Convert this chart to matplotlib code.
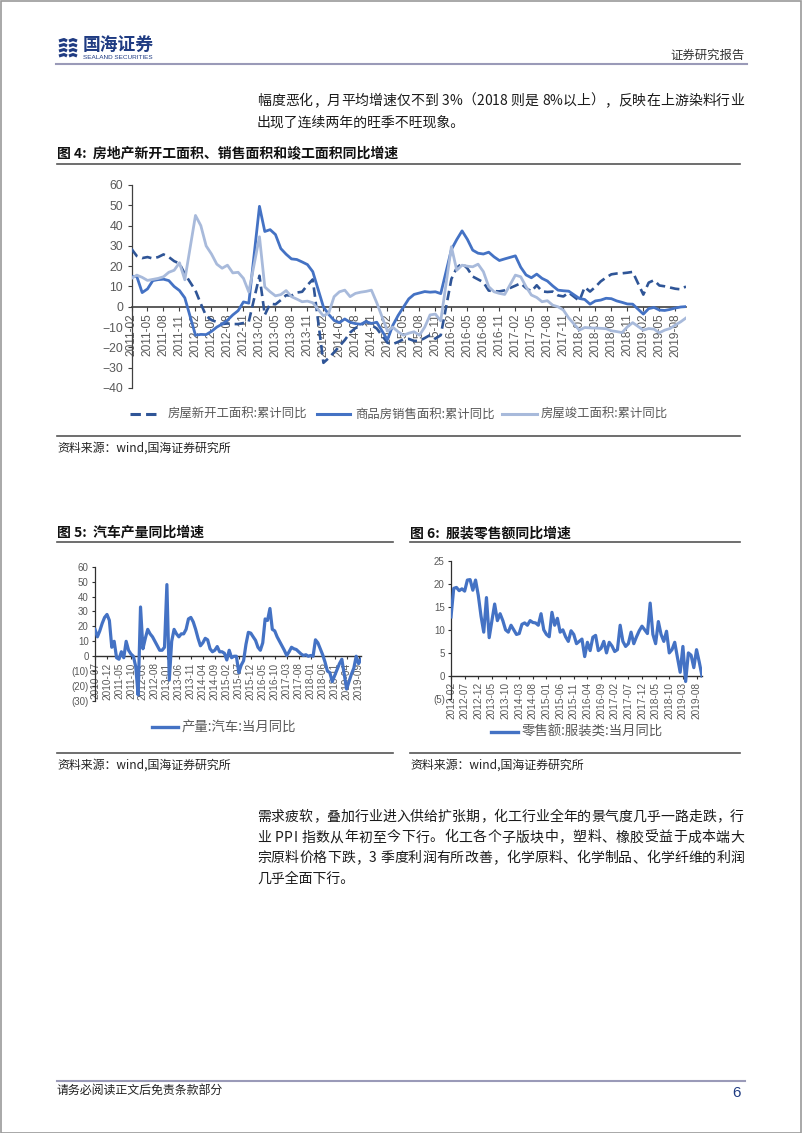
import matplotlib
matplotlib.use('Agg')
import matplotlib.pyplot as plt
from matplotlib.lines import Line2D
from matplotlib.patches import Rectangle

plt.rcParams['font.family'] = ['Noto Sans CJK SC', 'DejaVu Sans']
plt.rcParams['axes.unicode_minus'] = True

# ---------------- data ----------------
# Fig 4: monthly cumulative YoY (Feb-Dec each year, 2011-02 .. 2019-10)
years4 = [2011, 2012, 2013, 2014, 2015, 2016, 2017, 2018, 2019]
last_month4 = 10  # 2019-10
starts4 = [28.5, 25, 24, 24.5, 23.8, 24.5, 25.8, 24.5, 22.5, 21.3, 16.2,
           8, 1.5, -4.5, -6.5, -7.5, -8.5, -8.2, -8.5, -8.5, -8, -7.3,
           15.3, -4, 1.5, 1.2, 3.3, 5.7, 5.5, 7, 7.4, 10.7, 13.5,
           -27.6, -25.2, -22.4, -19.4, -16.4, -12.7, -10.5, -9.3, -7.1, -9.0, -10.7,
           -17.7, -18.4, -17.3, -16.0, -15.8, -16.8, -16.8, -15.4, -13.9, -15.7, -14.0,
           13.7, 19.2, 21.4, 18.9, 14.9, 13.5, 12.1, 8.0, 7.7, 7.6, 8.1,
           10.4, 11.6, 9.2, 7.6, 10.6, 7.6, 7.3, 7.5, 5.6, 5.1, 7.0,
           2.9, 9.7, 7.5, 9.8, 12.5, 14.4, 16.0, 16.4, 16.5, 16.8, 17.2,
           6.0, 11.9, 13.1, 10.5, 10.1, 9.5, 8.9, 8.6, 10.0]
sales4 = [14.9, 14.9, 7.0, 8.8, 12.9, 13.4, 13.6, 12.9, 10.0, 8.0, 4.4,
          -14.0, -13.6, -13.7, -12.1, -10.0, -8.5, -6.6, -4.0, -1.9, 2.4, 1.8,
          49.5, 37.1, 38.0, 35.6, 28.7, 25.9, 23.6, 23.3, 22.1, 20.8, 17.3,
          -0.1, -3.8, -6.7, -7.8, -6.0, -7.6, -8.3, -8.6, -7.3, -8.2, -7.6,
          -16.3, -9.2, -4.3, -0.2, 3.9, 6.1, 6.8, 7.5, 7.2, 7.4, 6.5,
          28.2, 33.1, 37.4, 33.2, 27.9, 26.4, 26.0, 26.9, 24.6, 22.8, 23.6,
          25.1, 19.5, 15.7, 14.3, 16.1, 14.0, 12.7, 10.3, 8.2, 7.9, 7.7,
          4.1, 3.6, 1.3, 2.9, 3.3, 4.2, 4.0, 2.9, 2.2, 1.4, 1.3,
          -3.6, -0.9, -0.3, -1.6, -1.8, -1.3, -0.6, -0.1, 0.1]
comp4 = [14, 15.6, 14.5, 13, 13.5, 14, 14.8, 17, 18, 21.7, 13.3,
         45, 40, 30, 26, 21, 19, 20.5, 16.7, 17, 14, 7.3,
         34.5, 9.8, 7.4, 5.4, 6, 8, 5, 3.8, 2.5, 2.8, 2.0,
         -4.5, -3, 5, 7.4, 8.2, 5, 6.6, 7.2, 7.6, 8.2, 2,
         -12, -10, -12.3, -14, -13, -12.3, -14, -10, -4, -3.6, -6.9,
         29.6, 18, 20.5, 20, 19.7, 21, 17.3, 9.9, 7.4, 6.6, 6.1,
         15.6, 14.8, 9.9, 5.8, 4.6, 2.5, 3.0, 0.8, 0.0, -1.6, -5.5,
         -11.5, -10.2, -10.4, -10.5, -10.6, -10.8, -11.8, -12.2, -12.7, -9.9, -7.8,
         -11.5, -10.7, -11, -12.8, -11.5, -10.7, -9, -7.4, -5.5]
labels4_series = ['房屋新开工面积:累计同比', '商品房销售面积:累计同比', '房屋竣工面积:累计同比']
yticks4 = [60, 50, 40, 30, 20, 10, 0, -10, -20, -30, -40]

# Fig 5: auto production monthly YoY, 2010-07 .. 2019-10
start5 = (2010, 7)
auto5 = [18, 13, 17, 22, 26, 28, 24, 6, 10, -1, -2, 3, -1, 10, 4, 1.5, 0, -7,
         -26, 33, 5, 12, 18, 15, 13, 10, 7, 4, 4, 6, 48, -16, 10, 18, 15, 13,
         15, 15, 18, 25, 26, 23, 18, 12, 7, 9, 12, 11, 5, 3, 4, 6.5, 3, 3,
         2, -2.5, 4, -1, 0, 0, -11, -6, -3, 8, 16, 15.5, 13, 10.6, 6, 4, 9, 25,
         24, 32, 18, 17, 13, 10, 7, 4, 0.5, 3, 6, 5, 4.5, 3, 1.5, 0.5, 1, 0,
         0.5, 0, 11, 9, 5, 1, -4, -10, -11, -17, -13, -9, -5, -2, -12, -22, -17, -12,
         -8, 0, -5, -2]
yticks5 = [60, 50, 40, 30, 20, 10, 0, -10, -20, -30]
yticklabels5 = ['60', '50', '40', '30', '20', '10', '0', '(10)', '(20)', '(30)']
legend5 = '产量:汽车:当月同比'

# Fig 6: apparel retail sales monthly YoY, 2012-02 .. 2019-10
start6 = (2012, 2)
apparel6 = [12.8, 19, 19.2, 18.5, 18.9, 18.4, 20.8, 20.9, 18.6, 20.8, 17.5, 13,
            9.5, 17, 8.3, 12, 15.6, 12, 13.5, 12, 10, 9.5, 11, 10, 9, 9.2, 11.2,
            11.5, 11, 12, 11.6, 11.5, 11, 13.5, 10, 9, 8.5, 13.8, 11, 12.5, 9.5,
            10, 8.5, 7.5, 9.8, 9, 7, 7.5, 8, 4.2, 7.3, 5.5, 8.4, 8.8, 5.5, 6, 7.5,
            5, 7.3, 6.5, 5.3, 5.7, 11, 7.5, 6.4, 7, 9.5, 7, 8.5, 9.8, 10.8, 10,
            9.2, 15.8, 9, 7, 11.8, 9, 7.5, 9.7, 5, 5.7, 7.3, 4, 0.8, 6.4, -1.2,
            5, 4.5, 1.8, 5.7, 3, 0]
yticks6 = [25, 20, 15, 10, 5, 0, -5]
yticklabels6 = ['25', '20', '15', '10', '5', '0', '(5)']
legend6 = '零售额:服装类:当月同比'

para1 = ['幅度恶化，月平均增速仅不到 3%（2018 则是 8%以上），反映在上游染料行业',
         '出现了连续两年的旺季不旺现象。']
para2 = ['需求疲软，叠加行业进入供给扩张期，化工行业全年的景气度几乎一路走跌，行',
         '业 PPI 指数从年初至今下行。化工各个子版块中，塑料、橡胶受益于成本端大',
         '宗原料价格下跌，3 季度利润有所改善，化学原料、化学制品、化学纤维的利润',
         '几乎全面下行。']

# ---------------- page ----------------
W, H = 802, 1133
fig = plt.figure(figsize=(W / 100, H / 100), dpi=100)
renderer = fig.canvas.get_renderer()

def fx(px):
    return px / W

def fy(py):
    return 1 - py / H

def axes_px(l, t, r, b):
    return fig.add_axes([fx(l), fy(b), (r - l) / W, (b - t) / H])

def hline(y, x0, x1, color, lw):
    fig.add_artist(Line2D([fx(x0), fx(x1)], [fy(y), fy(y)], color=color, lw=lw))

def text(x, y, s, **kw):
    kw.setdefault('va', 'center')
    kw.setdefault('ha', 'left')
    return fig.text(fx(x), fy(y), s, **kw)

def justified(x0, x1, y, s, **kw):
    """Place characters one by one so the line fills x0..x1 (like the PDF)."""
    widths = []
    for ch in s:
        t = text(0, y, ch, **kw)
        widths.append(t.get_window_extent(renderer).width if ch != ' ' else None)
        t.remove()
    sp = text(0, y, '国 国', **kw)
    full = sp.get_window_extent(renderer).width
    sp.remove()
    t2 = text(0, y, '国国', **kw)
    space_w = full - t2.get_window_extent(renderer).width
    t2.remove()
    widths = [w if w is not None else space_w for w in widths]
    extra = (x1 - x0 - sum(widths)) / max(len(s) - 1, 1)
    extra = max(extra, 0)
    x = x0
    for ch, w in zip(s, widths):
        if ch != ' ':
            text(x, y, ch, **kw)
        x += w + extra

def style_axes(ax, spine_color, spine_lw, zero_lw, tick_len):
    for s in ('top', 'right'):
        ax.spines[s].set_visible(False)
    ax.spines['bottom'].set_position(('data', 0))
    ax.spines['bottom'].set_color(spine_color)
    ax.spines['bottom'].set_linewidth(zero_lw)
    ax.spines['left'].set_color(spine_color)
    ax.spines['left'].set_linewidth(spine_lw)
    ax.tick_params(axis='both', direction='out', length=tick_len, color=spine_color)
    ax.xaxis.set_zorder(1)
    ax.patch.set_visible(False)

NAVY = '#1F3B82'
RULE = '#9A9AB8'
DARK = '#1A1A1A'
GRAY = '#595959'
C_START = '#2F5597'
C_SALES = '#4472C4'
C_COMP = '#A8BADB'

# page border
fig.add_artist(Rectangle((0.5 / W, 0.5 / H), 1 - 1.5 / W, 1 - 1.5 / H, fill=False,
                         ec='#9a9a9a', lw=1.2, transform=fig.transFigure))

# logo
for yy in [41, 46, 51, 56]:
    fig.add_artist(Line2D([fx(59), fx(64), fx(67)], [fy(yy), fy(yy - 1.5), fy(yy)],
                          color=NAVY, lw=2.2, solid_capstyle='butt'))
    fig.add_artist(Line2D([fx(69), fx(73), fx(77)], [fy(yy), fy(yy - 1.5), fy(yy)],
                          color=NAVY, lw=2.2, solid_capstyle='butt'))
text(83, 46, '国海证券', fontsize=12.8, fontweight='bold', color=NAVY)
text(83, 57.5, 'SEALAND SECURITIES', fontsize=4.6, color=NAVY, family='Liberation Sans')
text(745, 55, '证券研究报告', fontsize=8.9, color='#333333', ha='right')
hline(63.5, 56, 747, RULE, 1.5)

# paragraph 1
justified(257, 744, 101, para1[0], fontsize=10.0, color=DARK)
text(257, 123, para1[1], fontsize=10.0, color=DARK)

# ---------------- Fig 4 ----------------
text(57, 153, '图 4:  房地产新开工面积、销售面积和竣工面积同比增速', fontsize=10, fontweight='bold', color='#111111')
hline(164, 57, 740, '#555555', 1.2)

x4 = []
ticks4, ticklabels4 = [], []
for y in years4:
    for m in range(2, 13):
        if y == years4[-1] and m > last_month4:
            break
        xi = 12 * (y - years4[0]) + (m - 2)
        x4.append(xi)
        if m in (2, 5, 8, 11):
            ticks4.append(xi)
            ticklabels4.append(f'{y}-{m:02d}')

ax4 = axes_px(131.5, 185, 686, 388)
style_axes(ax4, '#404040', 0.9, 1.2, 3)
ax4.plot(x4, starts4, color=C_START, lw=1.9, dashes=(3.6, 1.9), zorder=3)
ax4.plot(x4, sales4, color=C_SALES, lw=2.0, zorder=3)
ax4.plot(x4, comp4, color=C_COMP, lw=2.0, zorder=3)
ax4.set_xlim(0, x4[-1])
ax4.set_ylim(-40, 60)
ax4.set_yticks(yticks4)
ax4.set_xticks(ticks4)
ax4.set_xticklabels(ticklabels4, family='Liberation Sans', fontsize=8.6, color=GRAY)
for lab in ax4.get_yticklabels():
    lab.set_family('Liberation Sans')
    lab.set_fontsize(8.8)
    lab.set_color(GRAY)
ax4.tick_params(axis='x', labelrotation=90, pad=2)
ax4.tick_params(axis='y', pad=3)

# legend
lx = [(130, 160, 168), (317, 350, 355), (502, 537, 541)]
styles = [dict(color=C_START, lw=2.2, dashes=(3.4, 1.7)), dict(color=C_SALES, lw=2.2),
          dict(color=C_COMP, lw=2.2)]
for (a, b, t), st, lab in zip(lx, styles, labels4_series):
    fig.add_artist(Line2D([fx(a), fx(b)], [fy(414), fy(414)], **st))
    text(t, 414, lab, fontsize=8.9, color=GRAY)
hline(436, 57, 740, '#555555', 1.2)
text(57, 448, '资料来源：wind,国海证券研究所', fontsize=8.6, color='#222222')

# ---------------- Fig 5 ----------------
text(57, 533, '图 5:  汽车产量同比增速', fontsize=10, fontweight='bold', color='#111111')
hline(542.3, 57, 393, '#555555', 1.2)

def month_labels(start, n, step):
    y0, m0 = start
    ticks, labs = [], []
    for i in range(0, n, step):
        k = (m0 - 1) + i
        ticks.append(i)
        labs.append(f'{y0 + k // 12}-{k % 12 + 1:02d}')
    return ticks, labs

x5 = list(range(len(auto5)))
t5, l5 = month_labels(start5, len(auto5), 5)
ax5 = axes_px(95, 566.7, 361, 701)
style_axes(ax5, '#303030', 0.9, 1.0, 2.5)
ax5.plot(x5, auto5, color=C_SALES, lw=2.3, zorder=3, solid_joinstyle='round')
ax5.set_xlim(0, x5[-1])
ax5.set_ylim(-30, 60)
ax5.set_yticks(yticks5)
ax5.set_yticklabels(yticklabels5, family='Liberation Sans', fontsize=7.0, color=GRAY)
ax5.set_xticks(t5)
ax5.set_xticklabels(l5, family='Liberation Sans', fontsize=7.2, color=GRAY)
ax5.tick_params(axis='x', labelrotation=90, pad=2)
ax5.tick_params(axis='y', pad=2)

# ---------------- Fig 6 ----------------
text(410, 533, '图 6:  服装零售额同比增速', fontsize=10, fontweight='bold', color='#111111')
hline(542.3, 410, 740, '#555555', 1.2)

x6 = list(range(len(apparel6)))
t6, l6 = month_labels(start6, len(apparel6), 5)
ax6 = axes_px(451, 560.7, 702, 699)
style_axes(ax6, '#303030', 0.9, 1.0, 2.5)
ax6.plot(x6, apparel6, color=C_SALES, lw=2.3, zorder=3, solid_joinstyle='round')
ax6.set_xlim(0, x6[-1])
ax6.set_ylim(-5, 25)
ax6.set_yticks(yticks6)
ax6.set_yticklabels(yticklabels6, family='Liberation Sans', fontsize=7.0, color=GRAY)
ax6.set_xticks(t6)
ax6.set_xticklabels(l6, family='Liberation Sans', fontsize=7.2, color=GRAY)
ax6.tick_params(axis='x', labelrotation=90, pad=2)
ax6.tick_params(axis='y', pad=2)

fig.add_artist(Line2D([fx(152), fx(178)], [fy(726.7), fy(726.7)], color=C_SALES, lw=2.4))
text(182, 726.7, legend5, fontsize=9.6, color=GRAY)
fig.add_artist(Line2D([fx(491), fx(518)], [fy(731.7), fy(731.7)], color=C_SALES, lw=2.4))
text(522, 731.7, legend6, fontsize=9.6, color=GRAY)

hline(752.7, 57, 393, '#555555', 1.2)
hline(752.7, 410, 740, '#555555', 1.2)
text(57, 765, '资料来源：wind,国海证券研究所', fontsize=8.6, color='#222222')
text(410, 765, '资料来源：wind,国海证券研究所', fontsize=8.6, color='#222222')

# paragraph 2
for i, s in enumerate(para2):
    y = 816.7 + 20.8 * i
    if i < len(para2) - 1:
        justified(257, 744, y, s, fontsize=10.0, color=DARK)
    else:
        text(257, y, s, fontsize=10.0, color=DARK)

# footer
hline(1080.7, 57, 745, RULE, 1.5)
text(57, 1090, '请务必阅读正文后免责条款部分', fontsize=8.6, color='#222222')
text(741, 1093, '6', fontsize=11, color=NAVY, ha='right', family='Liberation Sans')

fig.savefig('out.png', dpi=100)
